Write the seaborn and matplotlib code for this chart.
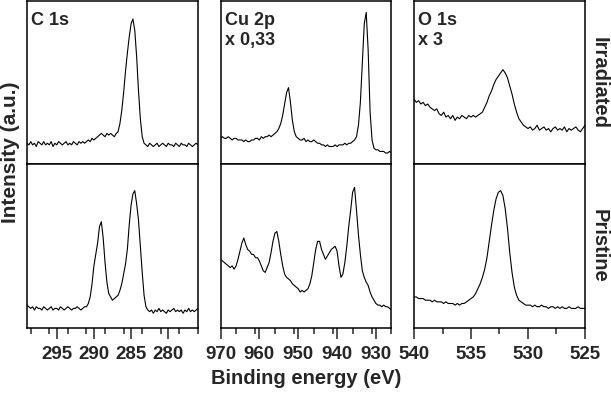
import numpy as np
import pandas as pd
import seaborn as sns
import matplotlib.pyplot as plt

# binding energy grids (eV)
c1s_ev = np.linspace(299, 276, 93)
cu2p_ev = np.linspace(970, 926, 89)
o1s_ev = np.linspace(540, 525, 76)

# intensities (a.u., % of panel height)
c1s_irr = [13, 12, 14, 12, 13, 11, 14, 13, 12, 14, 12, 13, 12, 14, 11, 13, 12, 14, 13, 12,
           13, 14, 12, 13, 12, 14, 13, 12, 14, 13, 14, 13,
           14, 15, 14, 16, 15, 16,
           17, 18, 19, 18, 17, 19, 18, 19, 18, 17, 19,
           20, 25, 33, 44, 57, 68, 78, 86, 89, 82, 66, 45, 28, 17, 13,
           12, 11, 13, 12, 11, 12, 13, 11, 12, 13, 12, 11, 13, 12, 12, 11, 13, 12, 11, 13,
           12, 12, 11, 13, 12, 11, 12, 13, 12]
c1s_pri = [14, 13, 12, 13, 11, 13, 12, 12, 11, 13, 12, 11, 12, 13, 11, 12, 12, 11, 13, 12,
           11, 12, 13, 12, 11, 12, 12, 13, 12, 11, 12, 13,
           13, 15, 19, 27, 38, 45, 52, 62, 65, 55, 40, 28, 21, 19, 17, 18, 19, 20, 23, 27,
           33, 39, 48, 63, 75, 82, 84, 76, 66, 50, 34, 20, 13,
           11, 10, 11, 9, 11, 10, 12, 10, 11, 10, 9, 11, 10, 11, 12, 10, 11, 10, 11, 9,
           11, 10, 12, 10, 11, 10, 11, 12]

cu2p_irr = [16, 17, 16, 16, 17, 16, 15, 16, 16, 15, 15,
            15, 14, 15, 14, 14, 15, 15, 16, 16, 15, 17, 16,
            17, 17, 18, 17, 18,
            19, 20, 22, 25, 30, 37, 44, 47, 38, 27, 20, 17, 16,
            15, 15, 16, 14, 15, 14, 14, 15, 14,
            13, 13, 12, 12, 11, 12, 11, 11,
            11, 12, 11, 12, 12, 12, 13, 12, 13,
            13, 14, 15, 17, 24, 38, 62, 86, 93, 70, 32, 15, 10,
            9, 9, 8, 8, 8, 7, 7, 8, 7]
cu2p_pri = [42, 41, 40, 39, 38, 37, 38, 36, 38, 42, 47, 52, 55, 51, 48, 47, 45, 45, 43, 43,
            41, 38, 35, 34, 37, 40, 46, 53, 58, 59, 53, 45, 38, 33, 31, 30, 29, 27, 26, 25,
            24, 22, 23, 22, 23, 24, 27, 32, 40, 48, 53, 53, 48, 45, 42, 44, 46, 48, 49, 50,
            47, 38, 31, 33, 40, 50, 62, 72, 83, 86, 72, 57, 45, 35, 31, 28, 26, 22, 19, 17,
            15, 14, 14, 13, 14, 13, 13, 12, 11]

o1s_irr = [40, 38, 39, 37, 38, 36, 37, 35, 34, 33, 34, 31, 30, 32, 29, 30, 28, 30, 27, 29,
           28, 30, 29, 28, 30, 29, 30, 29, 30, 31, 32, 35, 38, 42, 45, 49, 52, 54, 56, 58,
           56, 53, 48, 43, 37, 32, 28, 26, 24, 23,
           22, 23, 21, 22, 24, 21, 22, 23, 21, 22, 20, 22, 23, 21, 22, 21, 23, 20, 22, 21,
           22, 23, 21, 20, 22, 24]
o1s_pri = [19, 19, 18, 18, 18, 17, 17, 17, 16, 17, 16, 16, 16, 15, 16, 15, 15, 15, 14, 15,
           14, 15, 15, 16, 17, 18, 19, 21, 24, 27, 31, 36, 43, 53, 63, 72, 79, 83, 84, 81,
           73, 61, 46, 34, 25, 20, 17, 16, 15, 14,
           14, 14, 13, 14, 13, 13, 14, 13, 13, 12, 13, 13, 12, 13, 12, 13, 12, 12, 13, 12,
           12, 12, 13, 12, 12, 12]

columns = [
    ("C 1s", c1s_ev, c1s_irr, c1s_pri, (299, 276), [295, 290, 285, 280], 2.5),
    ("Cu 2p\nx 0,33", cu2p_ev, cu2p_irr, cu2p_pri, (970, 926), [970, 960, 950, 940, 930], 5),
    ("O 1s\nx 3", o1s_ev, o1s_irr, o1s_pri, (540, 525), [540, 535, 530, 525], 2.5),
]
row_names = ["Irradiated", "Pristine"]

sns.set_theme(style="ticks")
plt.rcParams['font.family'] = ['Liberation Sans', 'DejaVu Sans']
plt.rcParams['font.weight'] = 'bold'

fig, axes = plt.subplots(2, 3, figsize=(6.11, 3.96), dpi=100)
fig.subplots_adjust(left=0.0442, right=0.9574, bottom=0.1717, top=0.9975,
                    hspace=0, wspace=0.132)

for j, (name, ev, irr, pri, xlim, ticks, minor) in enumerate(columns):
    for i, vals in enumerate([irr, pri]):
        ax = axes[i, j]
        df = pd.DataFrame({"ev": ev, "counts": vals})
        sns.lineplot(data=df, x="ev", y="counts", ax=ax, color="black",
                     linewidth=0.8, sort=False)
        ax.set_xlim(*xlim)
        ax.set_ylim(0, 100)
        ax.set_xlabel("")
        ax.set_ylabel("")
        ax.set_yticks([])
        for sp in ax.spines.values():
            sp.set_linewidth(1.1)
            sp.set_color("black")
        if i == 0:
            ax.set_xticks([])
            ax.text(0.025, 0.935, name, transform=ax.transAxes, ha="left", va="top",
                    fontsize=13, fontweight="bold", linespacing=1.25)
        else:
            ax.set_xticks(ticks)
            ax.set_xticks(np.arange(min(xlim), max(xlim) + 0.01, minor), minor=True)
            ax.tick_params(axis="x", which="major", direction="out", length=8,
                           width=1.1, pad=5.2, labelsize=13.5)
            ax.tick_params(axis="x", which="minor", direction="out", length=4,
                           width=1.1)
            for lab in ax.get_xticklabels():
                lab.set_fontweight("bold")
        if j == 2:
            ax.text(1.085, 0.5, row_names[i], transform=ax.transAxes, rotation=270,
                    ha="center", va="center", fontsize=14.5, fontweight="bold")

fig.text(0.0165, 0.615, "Intensity (a.u.)", rotation=90, ha="center", va="center",
         fontsize=15, fontweight="bold")
fig.text(0.501, 0.045, "Binding energy (eV)", ha="center", va="center",
         fontsize=14.5, fontweight="bold")

fig.savefig("out.png", dpi=100)
